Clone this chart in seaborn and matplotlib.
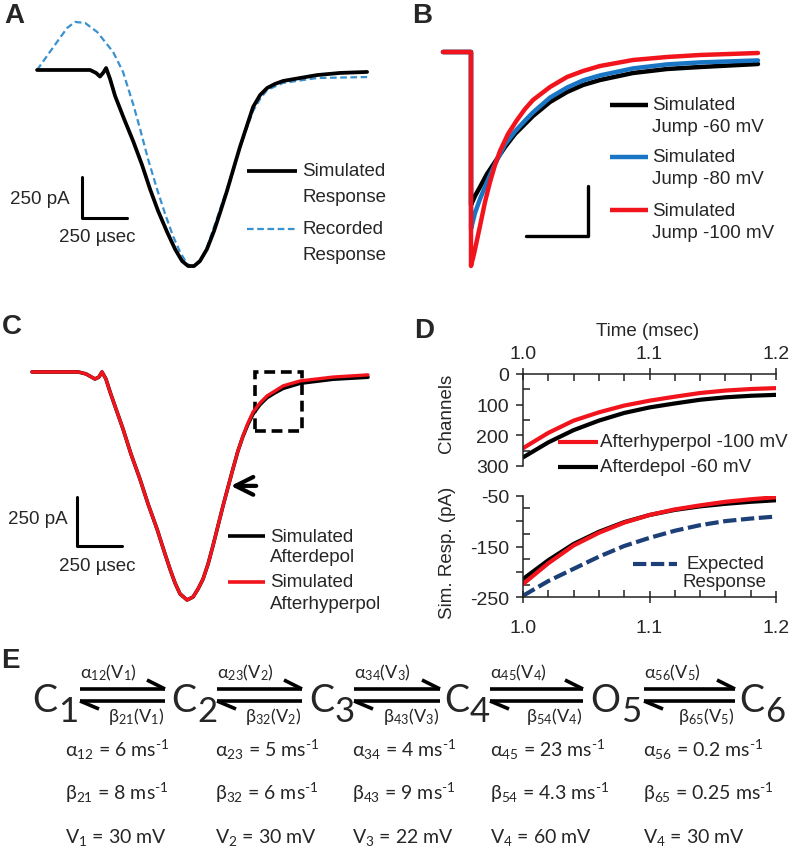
import numpy as np
import pandas as pd
import seaborn as sns
import matplotlib.pyplot as plt
from matplotlib.lines import Line2D
from matplotlib.patches import Rectangle
from matplotlib.ticker import MultipleLocator

sns.set_theme(style="white")
plt.rcParams['font.family'] = ['Liberation Sans', 'DejaVu Sans']
plt.rcParams['mathtext.fontset'] = 'custom'
plt.rcParams['mathtext.rm'] = 'Lato'
plt.rcParams['mathtext.default'] = 'rm'

# ---- A: simulated vs recorded response (time in usec, current in pA)
a_sim_t = [0, 295, 328, 350, 367, 384, 406, 434, 484, 534, 584, 628, 673, 723, 767, 806, 840, 873, 906, 945,
           984, 1017, 1056, 1095, 1128, 1168, 1201, 1240, 1279, 1323, 1368, 1462, 1557, 1685, 1835]
a_sim_i = [0, 0, -18, -40, -18, 12, -55, -159, -299, -433, -580, -726, -860, -988, -1092, -1165, -1196, -1196, -1165, -1092,
           -982, -872, -738, -592, -470, -336, -226, -153, -110, -85, -67, -49, -31, -18, -12]
a_rec_t = [0, 83, 167, 211, 267, 334, 423, 478, 534, 573, 617, 667, 712, 756, 795, 834, 867, 906, 945, 990,
           1056, 1128, 1201, 1240, 1279, 1368, 1557, 1835]
a_rec_i = [0, 128, 256, 293, 287, 232, 110, -12, -207, -360, -543, -726, -878, -1013, -1110, -1183, -1202, -1171, -1080, -939,
           -726, -470, -250, -177, -122, -79, -49, -43]

# ---- B: jumps to -60, -80, -100 mV
b_t = [-112, 0, 0, 16, 36, 64, 96, 136, 176, 216, 248, 316, 384, 448, 516, 648, 784, 916, 1148]
b_i60 = [0, 0, -765, -720, -675, -610, -550, -475, -410, -360, -320, -250, -200, -165, -140, -105, -85, -75, -60]
b_i80 = [0, 0, -885, -805, -735, -650, -560, -462, -397, -343, -302, -228, -178, -142, -117, -82, -62, -52, -42]
b_t100 = [-112, 0, 0, 12, 24, 36, 56, 76, 96, 116, 148, 184, 216, 248, 316, 384, 448, 516, 648, 784, 916, 1148]
b_i100 = [0, 0, -1070, -1010, -940, -870, -750, -650, -565, -495, -410, -340, -285, -240, -175, -125, -95, -70, -40, -25, -15, -5]

# ---- C: afterdepol vs afterhyperpol
c_t = [0, 256, 300, 350, 372, 389, 411, 434, 467, 506, 550, 600, 645, 695, 734, 767, 795, 823, 862, 895,
       923, 951, 979, 1006, 1034, 1062, 1090, 1117, 1145, 1173, 1201, 1229, 1268, 1307, 1351, 1396, 1490, 1674, 1868]
c_hyper = [0, 0, -10, -36, -26, 0, -36, -102, -189, -291, -418, -546, -673, -801, -913, -1005, -1076, -1132, -1163, -1148,
           -1107, -1056, -979, -887, -785, -683, -587, -495, -403, -326, -260, -204, -158, -122, -97, -71, -46, -26, -15]
c_depol = [0, 0, -10, -36, -26, 0, -36, -102, -189, -291, -418, -546, -673, -801, -913, -1005, -1076, -1132, -1163, -1148,
           -1107, -1056, -979, -887, -785, -683, -587, -495, -403, -328, -266, -214, -166, -131, -106, -84, -58, -37, -27]

# ---- D: zoom 1.0-1.2 msec
d_t = [1.00, 1.02, 1.04, 1.06, 1.08, 1.10, 1.12, 1.14, 1.16, 1.18, 1.20]
d_hyper_ch = [242, 192, 152, 125, 103, 87, 74, 62, 54, 49, 46]
d_depol_ch = [272, 223, 183, 152, 127, 109, 96, 84, 76, 71, 68]
d_hyper_pa = [-224, -183, -148, -123, -103, -88, -77, -69, -62, -57, -53]
d_depol_pa = [-214, -177, -145, -121, -102, -88, -78, -71, -66, -62, -59]
d_expected = [-247, -218, -194, -170, -149, -133, -119, -108, -100, -95, -91]

# ---- E: kinetic scheme
e_states = ['C', 'C', 'C', 'C', 'O', 'C']
e_subs = ['1', '2', '3', '4', '5', '6']
e_fwd = ['α$_{12}$(V$_{1}$)', 'α$_{23}$(V$_{2}$)', 'α$_{34}$(V$_{3}$)', 'α$_{45}$(V$_{4}$)', 'α$_{56}$(V$_{5}$)']
e_bwd = ['β$_{21}$(V$_{1}$)', 'β$_{32}$(V$_{2}$)', 'β$_{43}$(V$_{3}$)', 'β$_{54}$(V$_{4}$)', 'β$_{65}$(V$_{5}$)']
e_alpha = ['α$_{12}$ = 6 ms$^{\\text{-}1}$', 'α$_{23}$ = 5 ms$^{\\text{-}1}$', 'α$_{34}$ = 4 ms$^{\\text{-}1}$',
           'α$_{45}$ = 23 ms$^{\\text{-}1}$', 'α$_{56}$ = 0.2 ms$^{\\text{-}1}$']
e_beta = ['β$_{21}$ = 8 ms$^{\\text{-}1}$', 'β$_{32}$ = 6 ms$^{\\text{-}1}$', 'β$_{43}$ = 9 ms$^{\\text{-}1}$',
          'β$_{54}$ = 4.3 ms$^{\\text{-}1}$', 'β$_{65}$ = 0.25 ms$^{\\text{-}1}$']
e_volt = ['V$_{1}$ = 30 mV', 'V$_{2}$ = 30 mV', 'V$_{3}$ = 22 mV', 'V$_{4}$ = 60 mV', 'V$_{4}$ = 30 mV']

RED = '#f2141c'
BLUE = '#1a75c4'
LBLUE = '#3a91cf'
NAVY = '#1c3f78'
FS = 13.5

W, H = 794, 853
fig = plt.figure(figsize=(W / 100, H / 100), dpi=100)


def panel(x0, y0, x1, y1):
    ax = fig.add_axes([x0 / W, 1 - y1 / H, (x1 - x0) / W, (y1 - y0) / H])
    ax.set_axis_off()
    return ax


def key(x0, x1, y, color, lw, dashes=None):
    ln = Line2D([x0 / W, x1 / W], [1 - y / H, 1 - y / H], transform=fig.transFigure,
                color=color, lw=lw, solid_capstyle='butt')
    if dashes:
        ln.set_dashes(dashes)
    fig.add_artist(ln)


def txt(x, y, s, size=FS, va='center', **kw):
    return fig.text(x / W, 1 - y / H, s, fontsize=size, va=va, **kw)


def trace(ax, x, y, color, lw, dashes=None):
    sns.lineplot(x=x, y=y, ax=ax, color=color, lw=lw, sort=False, estimator=None)
    if dashes:
        ax.lines[-1].set_dashes(dashes)


# ---------------- A
ax = panel(0, 0, 400, 290)
trace(ax, a_rec_t, a_rec_i, LBLUE, 1.6, dashes=[3, 1.6])
trace(ax, a_sim_t, a_sim_i, 'black', 2.7)
ax.plot([250, 250, 500], [-655, -905, -905], color='black', lw=2.2)
ax.set_xlim(-206, 2018)
ax.set_ylim(-1336, 433)
txt(70, 200, '250 pA', ha='right')
txt(97, 237, '250 µsec', ha='center')
key(247, 297, 172, 'black', 2.7)
txt(302, 172, 'Simulated')
txt(302, 197, 'Response')
key(247, 297, 230, LBLUE, 1.6, dashes=[3, 1.6])
txt(302, 230, 'Recorded')
txt(302, 255, 'Response')

# ---------------- B
ax = panel(400, 0, 794, 290)
trace(ax, b_t, b_i60, 'black', 3.2)
trace(ax, b_t, b_i80, BLUE, 3.2)
trace(ax, b_t100, b_i100, RED, 3.2)
ax.plot([218, 468, 468], [-920, -920, -670], color='black', lw=2.4)
ax.set_xlim(-284, 1292)
ax.set_ylim(-1185, 265)
for y0, col, l2 in [(106, 'black', 'Jump -60 mV'), (158, BLUE, 'Jump -80 mV'), (211, RED, 'Jump -100 mV')]:
    key(610, 648, y0, col, 3.2)
    txt(652, y0, 'Simulated')
    txt(652, y0 + 22, l2)

# ---------------- C
ax = panel(0, 290, 400, 640)
trace(ax, c_t, c_depol, 'black', 2.6)
trace(ax, c_t, c_hyper, RED, 2.4)
ax.plot([250, 250, 500], [-637, -887, -887], color='black', lw=2.2)
ax.add_patch(Rectangle((1240, -301), 261, 301, fill=False, ec='black', lw=2.6, ls=(0, (3, 1.6))))
ax.annotate('', xy=(1090, -581), xytext=(1262, -581),
            arrowprops=dict(arrowstyle='->', lw=3, color='black', mutation_scale=32))
ax.set_xlim(-178, 2046)
ax.set_ylim(-1362, 423)
txt(68, 520, '250 pA', ha='right')
txt(97, 567, '250 µsec', ha='center')
key(228, 265, 537, 'black', 2.6)
txt(270, 537, 'Simulated')
txt(270, 558, 'Afterdepol')
key(228, 265, 583, RED, 2.6)
txt(270, 583, 'Simulated')
txt(270, 605, 'Afterhyperpol')

# ---------------- D
axd1 = fig.add_axes([523 / W, 1 - 467 / H, 253 / W, 92 / H])
trace(axd1, d_t, d_depol_ch, 'black', 3)
trace(axd1, d_t, d_hyper_ch, RED, 3)
axd1.set_xlim(1.0, 1.2)
axd1.set_ylim(300, 0)
axd1.xaxis.tick_top()
axd1.set_xticks([1.0, 1.1, 1.2], ['1.0', '1.1', '1.2'])
axd1.set_yticks([0, 100, 200, 300], ['0', '100', '200', '300'])
axd1.xaxis.set_minor_locator(MultipleLocator(0.02))
axd1.yaxis.set_minor_locator(MultipleLocator(50))
axd1.spines['right'].set_visible(False)
axd1.spines['bottom'].set_visible(False)

axd2 = fig.add_axes([523 / W, 1 - 598.3 / H, 253 / W, 101.6 / H])
trace(axd2, d_t, d_expected, NAVY, 3, dashes=[3.2, 1.1])
trace(axd2, d_t, d_depol_pa, 'black', 3)
trace(axd2, d_t, d_hyper_pa, RED, 3)
axd2.set_xlim(1.0, 1.2)
axd2.set_ylim(-250, -50)
axd2.set_xticks([1.0, 1.1, 1.2], ['1.0', '1.1', '1.2'])
axd2.set_yticks([-250, -200, -150, -100, -50], ['-250', '', '-150', '', '-50'])
axd2.xaxis.set_minor_locator(MultipleLocator(0.02))
axd2.yaxis.set_minor_locator(MultipleLocator(25))
axd2.spines['right'].set_visible(False)
axd2.spines['top'].set_visible(False)

for a, top in [(axd1, True), (axd2, False)]:
    for s in a.spines.values():
        s.set_color('#222222')
        s.set_linewidth(1.1)
    a.set_xlabel('')
    a.set_ylabel('')
    a.tick_params(axis='x', which='both', top=top, bottom=not top, labeltop=top, labelbottom=not top,
                  color='#222222', width=1.1)
    a.tick_params(axis='x', which='major', direction='inout', length=9, labelsize=14, pad=(4 if top else 11))
    a.tick_params(axis='x', which='minor', direction='in', length=5)
    a.tick_params(axis='y', which='both', left=True, color='#222222', width=1.1)
    a.tick_params(axis='y', which='major', direction='out', length=5, labelsize=14, pad=5)
    a.tick_params(axis='y', which='minor', direction='in', length=5)

txt(648, 332, 'Time (msec)', ha='center')
txt(447, 413, 'Channels', ha='center', rotation=90)
txt(447, 553, 'Sim. Resp. (pA)', ha='center', rotation=90)
key(558, 598, 443, RED, 3)
txt(600, 443, 'Afterhyperpol -100 mV')
key(558, 598, 468, 'black', 3)
txt(600, 468, 'Afterdepol -60 mV')
key(633, 677, 565, NAVY, 3, dashes=[3.2, 1.1])
txt(725, 565, 'Expected', ha='center')
txt(725, 583, 'Response', ha='center')

# ---------------- E
EF = ['Lato', 'Open Sans', 'DejaVu Sans']
state_r = [57, 196, 334, 469, 620, 764]   # right edge of the state letter
arr_x0 = [80, 217, 354, 490, 644]
arr_x1 = [165, 302, 440, 583, 735]
col_x = [65, 215, 352, 490, 643]

for name, sub, rx in zip(e_states, e_subs, state_r):
    txt(rx, 712, name, size=27, va='baseline', ha='right', family=EF)
    txt(rx + 1, 722, sub, size=25, va='baseline', ha='left', family=EF)

for x0, x1, f, b in zip(arr_x0, arr_x1, e_fwd, e_bwd):
    for xs, ys in [([x0, x1], [690, 690]), ([x1 - 18, x1], [681, 690]),
                   ([x0, x1], [702, 702]), ([x0, x0 + 19], [702, 710])]:
        fig.add_artist(Line2D([x / W for x in xs], [1 - y / H for y in ys], transform=fig.transFigure,
                              color='black', lw=2.6, solid_capstyle='butt'))
    txt(x0 + 28, 673, f, size=13, ha='center', family=EF)
    txt(x1 - 29, 717, b, size=13, ha='center', family=EF)

for cx, a_s, b_s, v_s in zip(col_x, e_alpha, e_beta, e_volt):
    txt(cx, 750, a_s, size=14, family=EF)
    txt(cx, 793, b_s, size=14, family=EF)
    txt(cx, 838, v_s, size=14, family=EF)

# panel letters
for lab, lx, ly in [('A', 14, 16), ('B', 422, 16), ('C', 12, 327), ('D', 424, 331), ('E', 10, 661)]:
    txt(lx, ly, lab, size=20, ha='center', weight='bold')

fig.savefig('out.png', dpi=100)
